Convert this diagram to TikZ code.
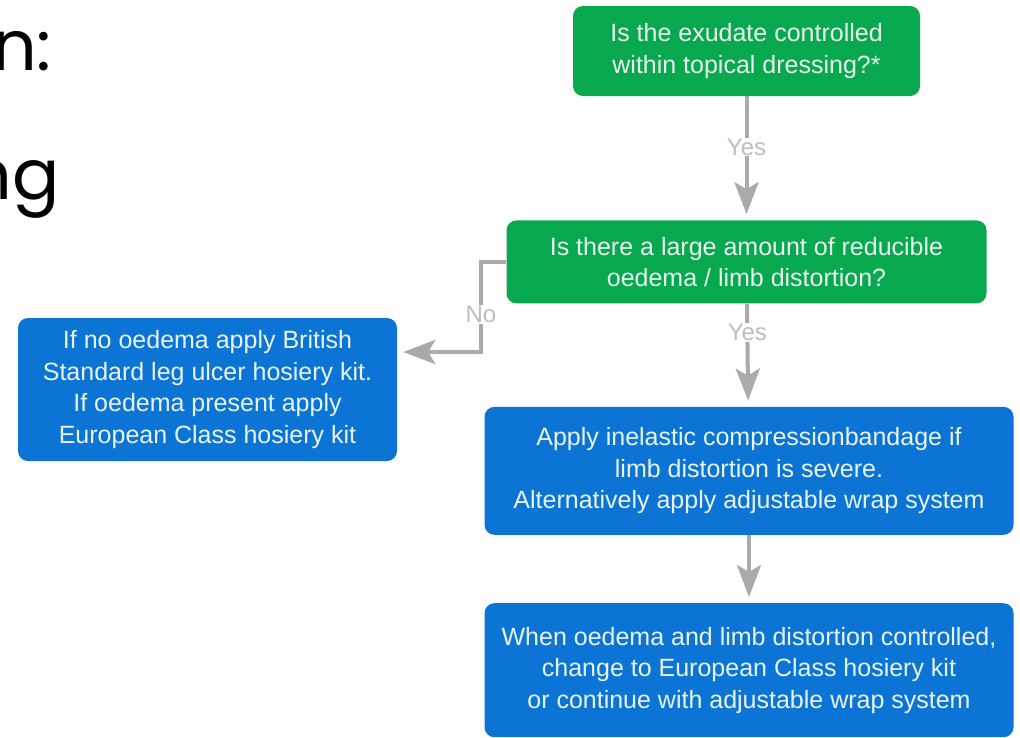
\documentclass[tikz,border=0pt]{standalone}
\usepackage{fontspec}
\setmainfont{Liberation Sans}
\newfontfamily\slidefont{Poppins}
\usepackage{xcolor}
\usetikzlibrary{arrows.meta, positioning}

\definecolor{qgreen}{RGB}{8,168,78}
\definecolor{qblue}{RGB}{12,116,212}
\definecolor{qarrow}{RGB}{170,170,172}
\definecolor{qlabel}{RGB}{190,190,192}
\definecolor{qtext}{RGB}{232,244,240}

\begin{document}
\begin{tikzpicture}[
  x=1pt, y=1pt,
  question/.style={rounded corners=10pt, fill=qgreen, text=qtext, align=center,
    inner sep=0pt, font=\fontsize{25}{31.5}\selectfont},
  action/.style={rounded corners=10pt, fill=qblue, text=qtext, align=center,
    inner sep=0pt, font=\fontsize{25}{31.5}\selectfont},
  arr/.style={-{Stealth[length=32pt, width=24pt, inset=7pt]}, line width=4pt,
    draw=qarrow, shorten >=6pt},
  lbl/.style={fill=white, text=qlabel, inner sep=1pt, font=\fontsize{24}{26}\selectfont}
]
  \useasboundingbox (0,0) rectangle (1020,-737);

  % cut-off slide heading on the left
  \node[anchor=base east, inner sep=0pt, font=\slidefont\fontsize{70}{80}\selectfont] (head1) at (52,-70) {n:};
  \node[anchor=base east, inner sep=0pt, font=\slidefont\fontsize{70}{80}\selectfont] (head2) at (60,-199) {ng};

  \node[question, minimum width=347pt, minimum height=90pt] (exudate) at (746.5,-51)
    {Is the exudate controlled\\within topical dressing?*};
  \node[question, below=124pt of exudate, minimum width=480pt, minimum height=83pt] (oedema)
    {Is there a large amount of reducible\\oedema / limb distortion?};
  \node[action, below=103pt of oedema, xshift=2.5pt, minimum width=529pt, minimum height=128pt] (bandage)
    {Apply inelastic compressionbandage if\\limb distortion is severe.\\Alternatively apply adjustable wrap system};
  \node[action, below=68pt of bandage, minimum width=529pt, minimum height=134pt] (controlled)
    {When oedema and limb distortion controlled,\\change to European Class hosiery kit\\or continue with adjustable wrap system};
  \node[action, minimum width=379pt, minimum height=143pt] (hosiery) at (207.5,-389.5)
    {If no oedema apply British\\Standard leg ulcer hosiery kit.\\If oedema present apply\\European Class hosiery kit};

  \coordinate (nobend) at (481,-352);

  \draw[arr] (exudate) -- node[lbl, pos=0.41]{Yes} (oedema);
  \draw[arr] (oedema) -- node[lbl, pos=0.28]{Yes} (bandage);
  \draw[arr] (bandage) -- (controlled);
  \draw[arr] (oedema.west) -- (oedema.west -| nobend) -- node[lbl, pos=0.58]{No} (nobend) -- (hosiery.east |- nobend);
\end{tikzpicture}
\end{document}
